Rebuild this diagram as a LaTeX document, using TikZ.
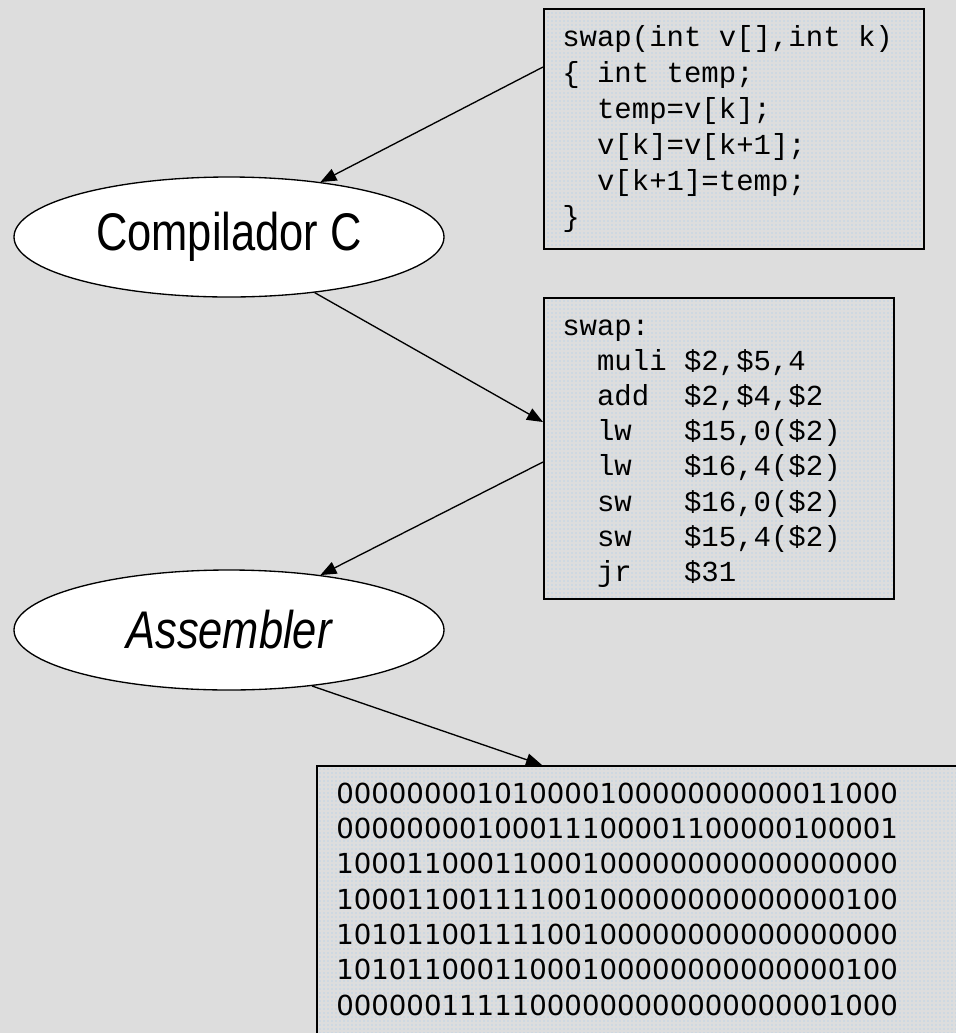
\documentclass[tikz,border=0pt]{standalone}
\usepackage{fontspec}
\newfontfamily\narrowsans[FakeStretch=0.82]{Liberation Sans}
\newfontfamily\codefont{Liberation Mono}
\newfontfamily\binfont{DejaVu Sans}
\usetikzlibrary{shapes.geometric,arrows.meta,patterns,calc}
\definecolor{bggray}{RGB}{221,221,221}
\definecolor{dotblue}{RGB}{160,200,240}
\begin{document}
\begin{tikzpicture}[x=0.75pt,y=-0.75pt,
  codebox/.style={draw=black, line width=1.2pt, preaction={fill=bggray}, pattern=dots, pattern color=dotblue, inner sep=0pt, anchor=north west},
  tool/.style={ellipse, draw=black, line width=1pt, fill=white, inner sep=0pt, minimum width=322.5pt, minimum height=90pt, font=\narrowsans\fontsize{39.75pt}{44pt}\selectfont},
  codetext/.style={inner sep=0pt, anchor=base west, align=left},
  conn/.style={line width=1pt, -{Triangle[length=12pt,width=9.5pt]}}
]
\useasboundingbox (0,0) rectangle (956,1033);
\fill[bggray] (0,0) rectangle (956,1033);
\clip (0,0) rectangle (956,1033);

% boxes
\node[codebox, minimum width=285pt, minimum height=180pt] (src) at (543,8) {};
\node[codebox, minimum width=262.5pt, minimum height=225.75pt] (asm) at (543,297) {};
\node[codebox, minimum width=525pt, minimum height=225pt] (bin) at (316,765) {};

\node[codetext, font=\codefont\fontsize{21.75pt}{27pt}\selectfont] (srctext) at (562,46)
  {\begin{tabular}[t]{@{}l@{}}
   swap(int~v[],int~k)\\
   \{~int~temp;\\
   ~~temp=v[k];\\
   ~~v[k]=v[k+1];\\
   ~~v[k+1]=temp;\\
   \}
   \end{tabular}};

\node[codetext, font=\codefont\fontsize{21.75pt}{26.4pt}\selectfont] (asmtext) at (562,335)
  {\begin{tabular}[t]{@{}l@{}}
   swap:\\
   ~~muli~\$2,\$5,4\\
   ~~add~~\$2,\$4,\$2\\
   ~~lw~~~\$15,0(\$2)\\
   ~~lw~~~\$16,4(\$2)\\
   ~~sw~~~\$16,0(\$2)\\
   ~~sw~~~\$15,4(\$2)\\
   ~~jr~~~\$31
   \end{tabular}};

\node[codetext, font=\binfont\fontsize{20.7pt}{26.5pt}\selectfont] (bintext) at (336,803)
  {\begin{tabular}[t]{@{}l@{}}
   00000000101000010000000000011000\\
   00000000100011100001100000100001\\
   10001100011000100000000000000000\\
   10001100111100100000000000000100\\
   10101100111100100000000000000000\\
   10101100011000100000000000000100\\
   00000011111000000000000000001000
   \end{tabular}};

% tools
\node[tool] (e1) at (229,237) {Compilador C};
\node[tool] (e2) at (229,630) {\itshape Assembler};

% connectors
\draw[conn] ($(src.north west)+(0,59)$) -- (e1.31);
\draw[conn] (e1.-33) -- ($(asm.north west)+(0,125)$);
\draw[conn] ($(asm.north west)+(0,165)$) -- (e2.31);
\draw[conn] (e2.-34) -- ($(bin.north west)+(226,0)$);
\end{tikzpicture}
\end{document}
